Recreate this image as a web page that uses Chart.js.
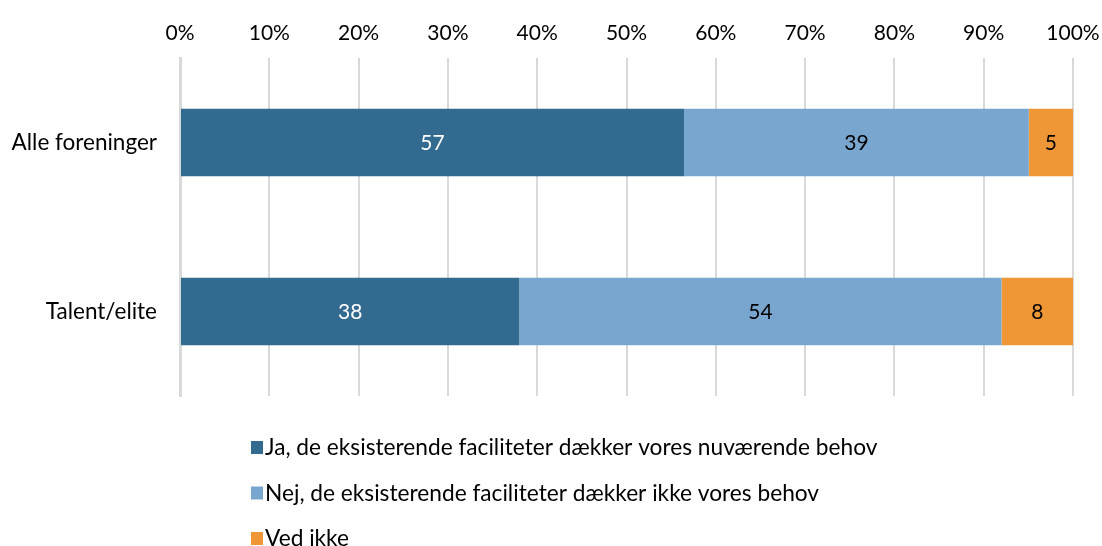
<!DOCTYPE html>
<html>
<head>
<meta charset="utf-8">
<script src="https://cdn.jsdelivr.net/npm/chart.js@4/dist/chart.umd.min.js"></script>
<style>
  html, body { margin: 0; padding: 0; background: #fff; }
  #wrap { width: 1102px; height: 546px; }
</style>
</head>
<body>
<div id="wrap"><canvas id="facilityChart" width="1102" height="546"></canvas></div>
<script>
// categories and answers (values as printed on the bars)
const categories = ['Alle foreninger', 'Talent/elite'];
const seriesNames = [
    'Ja, de eksisterende faciliteter dækker vores nuværende behov',
    'Nej, de eksisterende faciliteter dækker ikke vores behov',
    'Ved ikke'
];
const jaValues = [57, 38];
const nejValues = [39, 54];
const vedIkkeValues = [5, 8];
const tickLabels = ['0%', '10%', '20%', '30%', '40%', '50%', '60%', '70%', '80%', '90%', '100%'];

const colors = ['#336a8f', '#79a6cf', '#ef9637'];
const labelColors = ['#ffffff', '#000000', '#000000'];
const fontFamily = 'Lato, "Open Sans", sans-serif';

document.addEventListener('DOMContentLoaded', () => {
    const raw = [jaValues, nejValues, vedIkkeValues];
    // 100% stacked: share of each row total
    const totals = categories.map((c, i) => raw.reduce((s, arr) => s + arr[i], 0));
    const datasets = raw.map((arr, k) => ({
        label: seriesNames[k],
        data: arr.map((v, i) => v / totals[i] * 100),
        rawValues: arr,
        backgroundColor: colors[k],
        borderWidth: 0,
        barPercentage: 0.4,
        categoryPercentage: 1
    }));

    // Values written in the middle of each segment
    const barLabels = {
        id: 'barLabels',
        afterDatasetsDraw(chart) {
            const ctx = chart.ctx;
            ctx.save();
            ctx.font = '21px ' + fontFamily;
            ctx.textAlign = 'center';
            ctx.textBaseline = 'middle';
            chart.data.datasets.forEach((ds, k) => {
                chart.getDatasetMeta(k).data.forEach((bar, i) => {
                    const p = bar.getProps(['x', 'y', 'base'], true);
                    ctx.fillStyle = labelColors[k];
                    ctx.fillText(String(ds.rawValues[i]), (p.x + p.base) / 2, p.y + 1);
                });
            });
            ctx.restore();
        }
    };

    // Vertical legend under the plot
    const stackedLegend = {
        id: 'stackedLegend',
        afterDraw(chart) {
            const ctx = chart.ctx;
            ctx.save();
            ctx.font = '22.7px ' + fontFamily;
            ctx.textBaseline = 'middle';
            chart.data.datasets.forEach((ds, k) => {
                const y = 447 + k * 45.5;
                ctx.fillStyle = ds.backgroundColor;
                ctx.fillRect(251, y - 6, 12, 13);
                ctx.fillStyle = '#000';
                ctx.fillText(ds.label, 265, y + 1);
            });
            ctx.restore();
        }
    };

    const ctx = document.getElementById('facilityChart').getContext('2d');
    new Chart(ctx, {
        type: 'bar',
        data: {
            labels: categories,
            datasets: datasets
        },
        options: {
            indexAxis: 'y',
            responsive: false,
            animation: false,
            layout: {
                padding: { left: 10, right: 29, top: 10, bottom: 150 }
            },
            scales: {
                x: {
                    stacked: true,
                    position: 'top',
                    min: 0,
                    max: 100,
                    ticks: {
                        stepSize: 10,
                        color: '#000',
                        font: { family: fontFamily, size: 21 },
                        padding: 12,
                        callback: (v, i) => tickLabels[i]
                    },
                    grid: {
                        color: '#d9d9d9',
                        lineWidth: 2,
                        drawTicks: false
                    },
                    border: { display: false },
                    afterFit: (scale) => {
                        scale.height = 48;
                        scale.paddingLeft = 0;
                        scale.paddingRight = 0;
                    }
                },
                y: {
                    stacked: true,
                    ticks: {
                        color: '#000',
                        font: { family: fontFamily, size: 22.5 },
                        padding: 15
                    },
                    grid: { display: false },
                    border: { display: true, color: '#d9d9d9', width: 3 },
                    afterFit: (scale) => { scale.width = 170; }
                }
            },
            plugins: {
                legend: { display: false },
                tooltip: { enabled: false }
            }
        },
        plugins: [barLabels, stackedLegend]
    });
});
</script>
</body>
</html>
